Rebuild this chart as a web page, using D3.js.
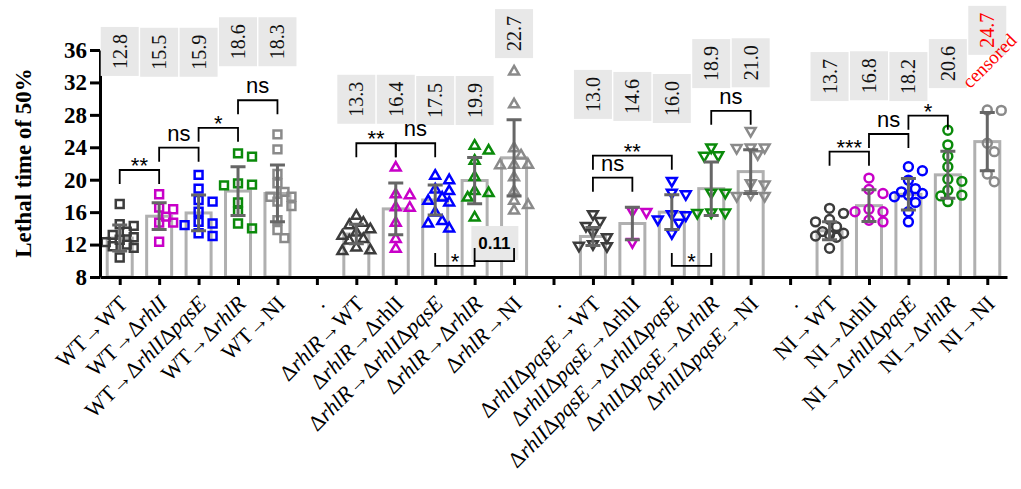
<!DOCTYPE html>
<html><head><meta charset="utf-8">
<script src="https://cdn.jsdelivr.net/npm/d3@7"></script>
<style>body{margin:0;background:#fff;} svg{display:block}</style>
</head><body>
<svg id="chart" width="1021" height="489"></svg>
<script>
// ---------- DATA ----------
const categories = d3.range(23);
const xLabels = [
  "WT→WT","WT→Δ*rhlI*","WT→Δ*rhlI*Δ*pqsE*","WT→Δ*rhlR*","WT→NI",
  ".",
  "Δ*rhlR*→WT","Δ*rhlR*→ΔrhlI","Δ*rhlR*→Δ*rhlI*Δ*pqsE*","Δ*rhlR*→Δ*rhlR*","Δ*rhlR*→NI",
  ".",
  "Δ*rhlI*Δ*pqsE*→WT","Δ*rhlI*Δ*pqsE*→ΔrhlI","Δ*rhlI*Δ*pqsE*→Δ*rhlI*Δ*pqsE*","Δ*rhlI*Δ*pqsE*→Δ*rhlR*","Δ*rhlI*Δ*pqsE*→NI",
  ".",
  "NI→WT","NI→ΔrhlI","NI→Δ*rhlI*Δ*pqsE*","NI→Δ*rhlR*","NI→NI"
];
const means = [12.8,15.5,15.9,18.6,18.3,null,13.3,16.4,17.5,19.9,22.7,null,13.0,14.6,16.0,18.9,21.0,null,13.7,16.8,18.2,20.6,24.7];
const sds   = [1.6,1.65,2.2,3.0,3.5,null,1.2,3.2,1.85,2.85,4.7,null,1.1,2.0,2.15,3.3,2.7,null,1.1,1.95,1.95,2.9,3.6];
const yTicks = [8,12,16,20,24,28,32,36];

// individual points per donor group (targets: WT, ΔrhlI, ΔrhlIΔpqsE, ΔrhlR, NI)
const wtPoints = [
  [17.0,14.5,14.3,13.6,13.2,12.9,12.6,12.3,12.0,11.8,11.6,10.4],
  [18.2,16.55,16.35,15.45,14.7,14.7,12.35],
  [20.6,18.9,17.5,17.3,16.05,14.8,14.6,14.4,13.4,13.05],
  [23.25,22.85,19.55,19.4,19.3,17.2,16.05,14.6,14.0],
  [25.6,23.75,20.7,19.55,18.5,17.9,17.9,17.3,16.75,15.0,13.8,12.8]
];
const rhlRPoints = [
  [15.65,14.8,14.5,14.0,13.6,13.2,12.8,12.6,11.75,11.4,11.3],
  [21.6,18.3,18.2,16.7,16.65,14.8,12.8,11.6],
  [20.6,20.05,18.9,18.7,17.9,17.5,17.3,16.05,15.0,14.7,14.1],
  [24.3,23.7,22.45,20.45,18.7,18.45,17.9,15.45],
  [33.45,29.4,24.0,23.1,21.95,21.95,21.9,20.4,18.7,17.5,17.0,16.3]
];
const rhlIpqsEPoints = [
  [15.65,14.8,14.2,13.4,12.8,11.95,11.75,11.7],
  [16.05,15.9,12.2],
  [19.75,18.3,18.1,15.65,15.5,15.0,14.6,13.3],
  [23.87,22.9,22.85,18.3,18.3,15.85,15.85,15.8],
  [25.9,23.87,23.87,23.8,23.05,19.47,19.3,18.1,17.9,17.9]
];
const niPoints = [
  [16.47,15.85,15.1,14.8,14.2,13.6,13.4,13.2,13.05,12.9,11.55],
  [20.2,18.8,18.3,16.35,16.05,16.05,15.0,14.8],
  [21.6,21.1,19.95,18.9,18.5,18.3,18.1,17.9,17.2,16.05,14.8],
  [26.1,24.3,22.9,21.6,20.05,19.8,18.7,18.1,18.0,17.3],
  [28.6,28.55,24.5,23.46,20.7,19.75]
];
const groupPoints = [wtPoints, rhlRPoints, rhlIpqsEPoints, niPoints];
const groupSymbols = ["square","triangleUp","triangleDown","circle"];
const targetColors = ["#3c3c3c","#c800c8","#0000ff","#0a8a0a","#8a8a8a"];

// annotations: value-label box base (axis units) and comparison brackets
const labelBase = [32.8,32.7,32.7,34.0,34.0,null,26.9,26.9,26.75,26.75,35.0,null,27.5,27.25,27.0,31.3,31.4,null,29.7,29.8,29.7,31.3,35.4];
const censored = categories.map(i => i === 22);
const brackets = [
  [0,1,21.2,"**","down"],[1,2,23.95,"ns","down"],[2,3,26.4,"*","down"],[3,4,29.8,"ns","down"],
  [6,7,24.5,"**","down"],[7,8,24.5,"ns","down"],[8,9,9.36,"*","up"],[9,10,9.97,"0.11","up"],
  [12,14,22.96,"**","down"],[12,13,20.25,"ns","down"],[15,16,28.5,"ns","down"],[14,15,9.36,"*","up"],
  [18,19,23.46,"***","down"],[19,20,25.64,"ns","down"],[20,21,27.9,"*","down"]
];

// ---------- DRAW ----------
const serif = "'Liberation Serif','Times New Roman',serif";
const sans = "'Liberation Sans',Arial,sans-serif";
const svg = d3.select("#chart");
const x = d3.scalePoint().domain(categories).range([100,1007]).padding(0.5);
const y = d3.scaleLinear().domain([8,36]).range([277,50]);
const barW = 25;

// bars
const gBars = svg.append("g");
categories.forEach(i => {
  if (means[i] == null) return;
  gBars.append("rect")
    .attr("x", x(i) - barW/2).attr("y", y(means[i]))
    .attr("width", barW).attr("height", y(8) - y(means[i]))
    .attr("fill", "none").attr("stroke", "#b0b0b0").attr("stroke-width", 3);
});

// points (simple beeswarm)
function symbolPath(kind) {
  if (kind === "square") return d3.symbol(d3.symbolSquare, 62)();
  if (kind === "circle") return d3.symbol(d3.symbolCircle, 62)();
  return d3.symbol(d3.symbolTriangle, 42)();
}
const gPts = svg.append("g");
groupPoints.forEach((grp, gi) => {
  grp.forEach((vals, ti) => {
    const ci = gi * 6 + ti;
    const cx = x(ci);
    const pts = vals.map(v => ({v, py: y(v)})).sort((a,b) => a.py - b.py);
    const placed = [];
    const dmin = 9, step = 7;
    const cands = [0, step, -step, 2*step, -2*step];
    pts.forEach(p => {
      let chosen = null, bestScore = -1, bestDx = 0;
      for (const dx of cands) {
        const md = placed.length ? d3.min(placed, q => Math.hypot(q.px - (cx+dx), q.py - p.py)) : Infinity;
        if (md >= dmin) { chosen = dx; break; }
        if (md > bestScore) { bestScore = md; bestDx = dx; }
      }
      p.px = cx + (chosen == null ? bestDx : chosen);
      placed.push(p);
    });
    const kind = groupSymbols[gi];
    gPts.selectAll(null).data(pts).enter().append("path")
      .attr("d", symbolPath(kind))
      .attr("transform", d => `translate(${d.px},${d.py + (kind==="triangleUp"?1:kind==="triangleDown"?-1:0)})${kind==="triangleDown"?" rotate(180)":""}`)
      .attr("fill", "none").attr("stroke", targetColors[ti]).attr("stroke-width", 2.5);
  });
});

// error bars
const gErr = svg.append("g").attr("stroke", "#666").attr("stroke-width", 3).attr("fill", "none");
categories.forEach(i => {
  if (means[i] == null) return;
  const cx = x(i), t = y(means[i] + sds[i]), b = y(means[i] - sds[i]);
  gErr.append("path").attr("d", `M${cx},${t}V${b}M${cx-7.5},${t}H${cx+7.5}M${cx-7.5},${b}H${cx+7.5}`);
});

// axes
const yAxis = d3.axisLeft(y).tickValues(yTicks).tickSize(10).tickPadding(3).tickSizeOuter(0);
svg.append("g").attr("transform","translate(100,0)").call(yAxis)
  .call(g => g.selectAll("path,line").attr("stroke","#000").attr("stroke-width",3))
  .call(g => g.selectAll("text").attr("font-family",serif).attr("font-weight","bold").attr("font-size",23).attr("fill","#000"));
const xAxis = d3.axisBottom(x).tickSize(8).tickSizeOuter(0).tickFormat("");
svg.append("g").attr("transform","translate(0,277)").call(xAxis)
  .call(g => g.selectAll("path,line").attr("stroke","#000").attr("stroke-width",3));

// x labels with italic segments
const gLab = svg.append("g").attr("font-family", serif).attr("font-size", 22).attr("fill", "#000");
categories.forEach(i => {
  const t = gLab.append("text").attr("text-anchor","end")
    .attr("transform", `translate(${x(i)+9},305) rotate(-45)`);
  xLabels[i].split("*").forEach((seg, k) => {
    if (!seg) return;
    t.append("tspan").text(seg).attr("font-style", k % 2 ? "italic" : null);
  });
});

// y label
svg.append("text").attr("transform","translate(31,163) rotate(-90)")
  .attr("text-anchor","middle").attr("font-family",serif).attr("font-weight","bold")
  .attr("font-size",23).text("Lethal time of 50%");

// value label boxes
const gVal = svg.append("g");
categories.forEach(i => {
  if (means[i] == null) return;
  const cx = x(i), yb = y(labelBase[i]);
  gVal.append("rect").attr("x", cx-19).attr("y", yb-49).attr("width", 38).attr("height", 49).attr("fill", "#e8e8e8");
  gVal.append("text").attr("transform", `translate(${cx},${yb-24.5}) rotate(-90)`)
    .attr("text-anchor","middle").attr("dominant-baseline","central")
    .attr("font-family", serif).attr("font-size", 20)
    .attr("fill", censored[i] ? "#ff0000" : "#111").text(means[i].toFixed(1));
  if (censored[i]) {
    gVal.append("text").attr("transform", `translate(${cx+2},${yb+6}) rotate(-45)`)
      .attr("text-anchor","middle").attr("dominant-baseline","central")
      .attr("font-family", serif).attr("font-size", 19).attr("fill", "#ff0000").text("censored");
  }
});

// brackets
const gBr = svg.append("g");
brackets.forEach(([a,b,v,txt,dir]) => {
  const x1 = x(a), x2 = x(b), yy = y(v), d = dir === "up" ? -13 : 14, mx = (x1+x2)/2;
  if (txt === "0.11") {
    gBr.append("rect").attr("x", mx-23).attr("y", yy-35).attr("width", 47).attr("height", 34).attr("fill", "#e8e8e8");
    gBr.append("text").attr("x", mx).attr("y", yy-18).attr("text-anchor","middle").attr("dominant-baseline","central")
      .attr("font-family", sans).attr("font-weight","bold").attr("font-size", 17).text(txt);
  }
  gBr.append("path").attr("d", `M${x1},${yy+d}V${yy}H${x2}V${yy+d}`)
    .attr("fill","none").attr("stroke","#000").attr("stroke-width",1.8);
  if (txt === "0.11") return;
  const isStar = txt.startsWith("*");
  gBr.append("text").attr("x", mx).attr("y", isStar ? yy + 3 : yy - 7)
    .attr("text-anchor","middle").attr("font-family", sans).attr("font-size", 22).attr("fill","#000").text(txt);
});
</script>
</body></html>
